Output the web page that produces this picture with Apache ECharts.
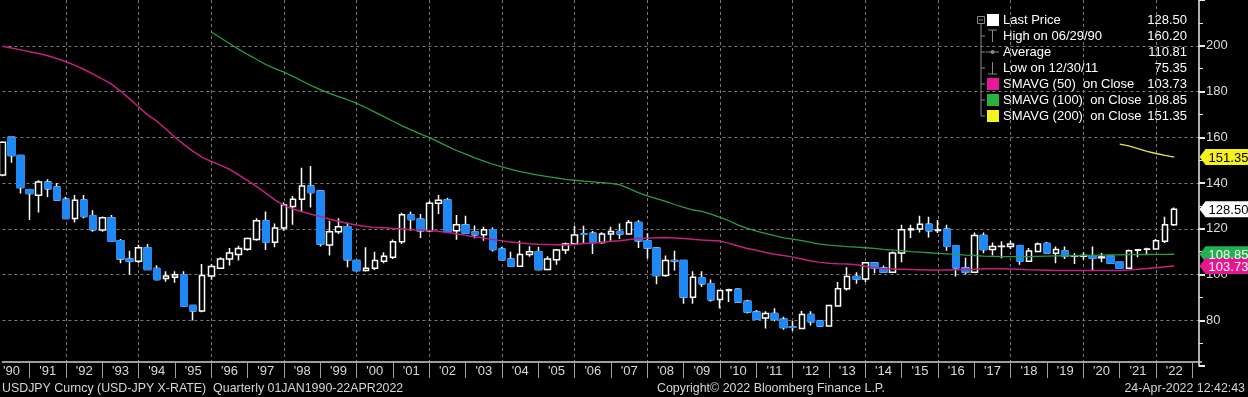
<!DOCTYPE html>
<html>
<head>
<meta charset="utf-8">
<style>
html, body { margin: 0; padding: 0; background: #000; }
#chart { width: 1248px; height: 397px; }
</style>
<script src="https://cdn.jsdelivr.net/npm/echarts@6/dist/echarts.min.js"></script>
</head>
<body>
<div id="chart"></div>
<script>
const FONT = '"Liberation Sans", Arial, sans-serif';

// quarterly bars, Q1 1990 .. Q2 2022
const opens = [
    143.5, 160.0, 152.0, 137.1, 134.6, 140.4, 138.3, 132.9, 124.5, 132.6, 125.7, 119.4,
    124.8, 114.8, 106.8, 105.8, 111.7, 102.6, 98.3, 98.8, 99.9, 86.5, 84.0, 99.3,
    102.7, 106.8, 108.7, 111.0, 115.3, 123.5, 114.1, 120.3, 129.7, 132.9, 138.7, 136.5,
    112.9, 118.7, 120.9, 106.1, 101.7, 102.7, 105.8, 107.5, 114.3, 126.1, 124.2, 119.1,
    131.2, 132.6, 119.1, 121.7, 118.7, 117.4, 119.6, 111.2, 106.8, 103.6, 108.7, 110.0,
    102.2, 106.5, 110.7, 113.3, 117.8, 118.0, 114.0, 117.7, 118.8, 117.7, 122.7, 114.8,
    111.6, 99.6, 106.1, 106.1, 90.1, 98.6, 96.0, 89.1, 93.0, 93.5, 88.3, 83.6,
    81.0, 82.9, 80.4, 77.1, 76.4, 82.5, 79.7, 77.5, 86.2, 93.8, 99.1, 98.0,
    105.1, 102.9, 101.0, 109.4, 119.6, 119.9, 122.0, 119.2, 119.9, 112.6, 102.9, 101.0,
    117.0, 110.9, 112.2, 112.2, 112.6, 105.8, 110.1, 113.6, 109.3, 110.4, 108.0, 108.0,
    108.0, 107.3, 108.0, 105.4, 102.7, 110.6, 111.0, 111.2, 114.5, 121.7
];
const closes = [
    157.8, 152.0, 138.0, 135.4, 140.4, 137.5, 132.5, 124.5, 132.5, 125.4, 119.6, 124.8,
    114.5, 106.8, 105.8, 111.7, 102.2, 97.8, 99.3, 99.9, 86.1, 84.0, 99.6, 103.5,
    106.8, 109.4, 111.4, 115.7, 123.5, 114.1, 120.3, 130.4, 132.9, 138.7, 135.8, 113.3,
    118.7, 120.9, 106.4, 101.7, 102.7, 106.1, 108.0, 114.3, 126.1, 124.0, 119.1, 131.2,
    132.5, 118.8, 121.7, 118.1, 117.4, 119.6, 110.9, 106.5, 103.6, 108.7, 110.0, 102.2,
    106.8, 110.7, 113.3, 117.3, 117.6, 114.0, 117.7, 118.8, 117.7, 122.7, 114.8, 111.6,
    99.6, 106.1, 105.9, 90.1, 98.8, 96.0, 89.0, 93.0, 93.3, 88.0, 83.6, 80.4,
    82.9, 80.4, 76.8, 76.9, 82.5, 79.3, 77.5, 86.4, 93.8, 99.1, 98.0, 105.1,
    102.9, 101.0, 109.4, 119.6, 119.9, 122.0, 119.1, 119.4, 112.3, 102.9, 101.0, 117.0,
    110.9, 112.2, 112.4, 113.3, 105.8, 110.3, 113.3, 109.4, 110.9, 108.0, 108.2, 108.3,
    107.1, 107.6, 104.9, 102.7, 110.4, 110.8, 111.2, 114.8, 121.7, 128.5
];
const lows = [
    143.0, 148.8, 135.4, 123.8, 127.1, 133.9, 132.3, 124.3, 122.7, 124.6, 118.7, 118.7,
    114.3, 104.9, 100.0, 104.9, 101.9, 97.4, 96.8, 96.4, 86.0, 79.9, 83.5, 97.7,
    102.5, 103.9, 106.1, 110.4, 114.8, 110.7, 111.9, 119.1, 121.7, 127.5, 129.3, 112.2,
    108.3, 117.7, 103.2, 101.3, 101.3, 102.0, 104.9, 106.8, 113.3, 119.1, 116.0, 118.5,
    126.4, 118.5, 115.2, 117.8, 115.8, 114.8, 110.1, 106.3, 103.4, 103.4, 107.8, 101.8,
    101.7, 104.3, 109.0, 112.9, 113.3, 109.0, 113.4, 114.8, 115.5, 117.5, 111.6, 107.0,
    95.7, 99.0, 101.7, 87.2, 87.2, 94.5, 88.2, 85.1, 88.0, 87.8, 82.9, 80.2,
    76.4, 79.6, 75.9, 75.35, 76.1, 77.7, 77.1, 77.4, 86.0, 93.0, 96.0, 96.7,
    100.6, 100.8, 100.8, 105.4, 116.0, 118.4, 116.2, 118.1, 110.4, 99.1, 100.0, 100.9,
    109.3, 108.3, 107.1, 111.2, 104.3, 105.6, 109.8, 109.2, 104.9, 106.8, 104.6, 106.5,
    101.7, 105.4, 104.6, 102.6, 102.6, 107.5, 108.7, 110.8, 113.8, 121.3
];
const highs = [
    158.2, 160.2, 152.0, 137.5, 141.2, 141.6, 140.0, 133.9, 134.8, 134.8, 128.1, 125.4,
    126.0, 115.5, 110.4, 113.0, 113.3, 104.0, 101.4, 101.4, 101.4, 86.6, 104.6, 104.6,
    107.5, 111.6, 112.6, 116.2, 124.6, 127.5, 122.3, 131.6, 134.3, 146.7, 147.4, 136.5,
    123.5, 124.6, 122.7, 106.5, 111.9, 110.0, 109.7, 115.3, 127.0, 127.5, 126.4, 132.2,
    134.8, 133.6, 126.0, 125.7, 121.4, 120.9, 120.5, 112.0, 110.0, 114.8, 112.3, 112.0,
    108.0, 111.1, 114.0, 121.3, 121.3, 119.0, 118.5, 120.9, 122.3, 123.8, 123.7, 118.0,
    112.0, 108.3, 110.4, 106.5, 101.4, 101.4, 97.8, 93.2, 93.8, 94.0, 89.0, 84.5,
    83.9, 85.2, 81.5, 79.7, 84.0, 83.9, 80.0, 86.6, 96.7, 103.2, 101.0, 105.4,
    105.4, 103.9, 110.1, 121.7, 121.7, 125.7, 125.2, 123.8, 121.7, 112.6, 107.3, 118.4,
    118.4, 114.0, 114.5, 114.8, 113.0, 111.6, 114.0, 114.2, 112.2, 112.2, 109.3, 109.7,
    112.2, 109.4, 108.2, 105.7, 110.9, 110.9, 111.7, 115.5, 125.2, 129.3
];

// simple moving averages on close (null = not drawn)
const sma50 = [
    199.8, 199.0, 198.2, 197.4, 196.6, 195.6, 194.4, 193.0, 191.4, 189.6, 187.6, 185.5,
    183.2, 180.2, 176.8, 173.2, 169.8, 167.0, 163.6, 160.0, 156.8, 153.8, 151.2, 149.4,
    147.8, 146.0, 143.6, 141.0, 138.4, 135.6, 132.6, 130.2, 128.6, 127.4, 126.3, 125.3,
    124.3, 123.3, 122.3, 121.6, 121.0, 120.6, 120.4, 120.1, 119.9, 119.6, 119.4, 119.2,
    118.9, 118.4, 117.8, 117.1, 116.5, 115.9, 115.3, 114.7, 114.2, 113.8, 113.4, 113.2,
    113.1, 113.0, 112.9, 113.1, 113.5, 113.8, 114.1, 114.5, 114.8, 115.3, 115.7, 115.9,
    116.1, 116.2, 116.0, 115.7, 115.4, 115.1, 114.9, 114.6, 113.6, 112.5, 111.4, 110.6,
    109.6, 108.9, 108.3, 107.6, 106.8, 105.9, 105.3, 104.9, 104.7, 104.6, 104.3, 103.6,
    102.9, 102.5, 102.4, 102.3, 102.2, 102.1, 102.0, 102.0, 102.0, 102.1, 102.2, 102.3,
    102.5, 102.5, 102.5, 102.4, 102.3, 102.1, 102.0, 101.9, 101.8, 101.7, 101.7, 101.7,
    101.7, 101.7, 101.7, 101.8, 102.0, 102.3, 102.6, 103.0, 103.4, 103.73
];
const sma100 = [
    null, null, null, null, null, null, null, null, null, null, null, null,
    null, null, null, null, null, null, null, null, null, null, null, 206.0,
    203.5, 201.0, 198.5, 196.2, 194.0, 191.8, 190.0, 188.5, 186.6, 184.6, 182.6, 180.8,
    179.2, 177.8, 176.4, 174.8, 173.0, 171.0, 169.0, 167.0, 165.0, 163.2, 161.5, 159.8,
    158.0, 156.0, 154.2, 152.6, 151.0, 149.6, 148.2, 147.0, 146.0, 145.0, 144.2, 143.4,
    142.8, 142.2, 141.6, 141.2, 140.8, 140.5, 140.2, 139.8, 139.2, 137.5, 135.8, 134.4,
    133.2, 132.0, 130.6, 129.3, 128.2, 127.6, 126.4, 125.0, 123.5, 121.6, 120.2, 119.0,
    118.0, 117.0, 116.0, 115.5, 114.8, 114.0, 113.3, 112.8, 112.5, 112.2, 112.0, 111.7,
    111.4, 111.0, 110.7, 110.4, 110.0, 109.8, 109.5, 109.2, 109.0, 108.8, 108.5, 108.3,
    108.0, 107.9, 107.8, 107.8, 107.8, 107.8, 107.9, 108.0, 108.1, 108.2, 108.2, 108.3,
    108.4, 108.5, 108.6, 108.6, 108.7, 108.7, 108.75, 108.8, 108.8, 108.85
];
const sma200 = [
    null, null, null, null, null, null, null, null, null, null, null, null,
    null, null, null, null, null, null, null, null, null, null, null, null,
    null, null, null, null, null, null, null, null, null, null, null, null,
    null, null, null, null, null, null, null, null, null, null, null, null,
    null, null, null, null, null, null, null, null, null, null, null, null,
    null, null, null, null, null, null, null, null, null, null, null, null,
    null, null, null, null, null, null, null, null, null, null, null, null,
    null, null, null, null, null, null, null, null, null, null, null, null,
    null, null, null, null, null, null, null, null, null, null, null, null,
    null, null, null, null, null, null, null, null, null, null, null, null,
    null, null, null, 157.0, 156.2, 155.0, 153.8, 152.9, 152.1, 151.35
];

const yearLabels = [
    "'90", "'91", "'92", "'93", "'94", "'95", "'96", "'97", "'98", "'99", "'00",
    "'01", "'02", "'03", "'04", "'05", "'06", "'07", "'08", "'09", "'10", "'11",
    "'12", "'13", "'14", "'15", "'16", "'17", "'18", "'19", "'20", "'21", "'22"
];
const yTicks = [80, 100, 120, 140, 160, 180, 200];

const legendRows = [
    { label: "Last Price", value: "128.50", mark: "square", color: "#ffffff" },
    { label: "High on 06/29/90", value: "160.20", mark: "high" },
    { label: "Average", value: "110.81", mark: "avg" },
    { label: "Low on 12/30/11", value: "75.35", mark: "low" },
    { label: "SMAVG (50)  on Close", value: "103.73", mark: "square", color: "#e8189c" },
    { label: "SMAVG (100)  on Close", value: "108.85", mark: "square", color: "#27b33f" },
    { label: "SMAVG (200)  on Close", value: "151.35", mark: "square", color: "#f2f21c" }
];

const BLUE = "#1e88f5";
const MAGENTA = "#c4207f";
const GREEN = "#2a9c45";
const YELLOW = "#e4e44a";

// categories run 3 quarters past the data so the axis ends at the right edge
const categories = [];
for (let i = 0; i < 133; i++) {
    categories.push((1990 + Math.floor(i / 4)) + "Q" + (i % 4 + 1));
}
const lastCat = categories[categories.length - 1];

const ohlc = opens.map((o, i) => [o, closes[i], lows[i], highs[i]]);
// blue bodies for falling quarters, drawn over the white wicks
const downBodies = opens.map((o, i) =>
    closes[i] < o ? [o, closes[i], closes[i], o] : ["-", "-", "-", "-"]
);

function tagMark(value, bg, fg) {
    return {
        silent: true,
        animation: false,
        symbol: "path://M0,8L7,0L60,0L60,16L7,16Z",
        symbolSize: [52, 16],
        symbolKeepAspect: false,
        symbolOffset: [24, 0],
        itemStyle: { color: bg },
        label: {
            show: true,
            position: "inside",
            offset: [3, 1],
            color: fg,
            fontFamily: FONT,
            fontSize: 13,
            formatter: () => value.toFixed(2)
        },
        data: [{ coord: [lastCat, value], value: value }]
    };
}

function legendGraphics() {
    const g = [];
    const grey = "#8a8a8a";
    g.push({ type: "rect", shape: { x: 977.5, y: 16.5, width: 7, height: 7 }, style: { fill: "none", stroke: grey, lineWidth: 1 } });
    g.push({ type: "line", shape: { x1: 979, y1: 20, x2: 983, y2: 20 }, style: { stroke: grey, lineWidth: 1 } });
    g.push({ type: "line", shape: { x1: 981, y1: 24, x2: 981, y2: 116 }, style: { stroke: grey, lineWidth: 1 } });

    legendRows.forEach((row, k) => {
        const yc = 20 + k * 16;
        if (k > 0) {
            g.push({ type: "line", shape: { x1: 981, y1: yc, x2: 985, y2: yc }, style: { stroke: grey, lineWidth: 1 } });
        }
        if (row.mark === "square") {
            g.push({ type: "rect", shape: { x: 987, y: yc - 6, width: 12, height: 12 }, style: { fill: row.color } });
        } else if (row.mark === "high") {
            g.push({ type: "line", shape: { x1: 988, y1: yc - 6, x2: 997, y2: yc - 6 }, style: { stroke: grey, lineWidth: 1 } });
            g.push({ type: "line", shape: { x1: 992.5, y1: yc - 6, x2: 992.5, y2: yc + 6 }, style: { stroke: grey, lineWidth: 1 } });
        } else if (row.mark === "low") {
            g.push({ type: "line", shape: { x1: 992.5, y1: yc - 6, x2: 992.5, y2: yc + 6 }, style: { stroke: grey, lineWidth: 1 } });
            g.push({ type: "line", shape: { x1: 988, y1: yc + 6, x2: 997, y2: yc + 6 }, style: { stroke: grey, lineWidth: 1 } });
        } else {
            g.push({ type: "line", shape: { x1: 986, y1: yc, x2: 999, y2: yc }, style: { stroke: grey, lineWidth: 1 } });
            g.push({ type: "circle", shape: { cx: 992.5, cy: yc, r: 2 }, style: { fill: grey } });
        }
        g.push({
            type: "text", x: 1003, y: yc,
            style: { text: row.label, fill: "#ffffff", font: "13px " + FONT, verticalAlign: "middle", textVerticalAlign: "middle" }
        });
        g.push({
            type: "text", x: 1187, y: yc,
            style: { text: row.value, fill: "#ffffff", font: "13px " + FONT, align: "right", textAlign: "right", verticalAlign: "middle", textVerticalAlign: "middle" }
        });
    });
    return g;
}

function footerGraphics() {
    const style = { fill: "#d6d6d6", font: "12.4px " + FONT, verticalAlign: "middle", textVerticalAlign: "middle" };
    return [
        { type: "text", x: 2, y: 389, style: Object.assign({ text: "USDJPY Curncy (USD-JPY X-RATE)  Quarterly 01JAN1990-22APR2022" }, style) },
        { type: "text", x: 771, y: 389, style: Object.assign({ text: "Copyright\u00a9 2022 Bloomberg Finance L.P.", align: "center", textAlign: "center" }, style) },
        { type: "text", x: 1245, y: 389, style: Object.assign({ text: "24-Apr-2022 12:42:43", align: "right", textAlign: "right" }, style) }
    ];
}

const chart = echarts.init(document.getElementById("chart"));

chart.setOption({
    backgroundColor: "#000000",
    animation: false,
    grid: {
        left: 1.4,
        right: 46.5,
        top: -2,
        bottom: 31
    },
    xAxis: {
        type: "category",
        data: categories,
        boundaryGap: false,
        offset: -4,
        axisLine: { lineStyle: { color: "#d0d0d0", width: 1.5 } },
        axisTick: {
            interval: (i) => i % 4 === 3,
            length: 16,
            lineStyle: { color: "#a0a0a0", width: 1 }
        },
        axisLabel: {
            interval: (i) => i % 4 === 1,
            margin: 3,
            color: "#d8d8d8",
            fontFamily: FONT,
            fontSize: 13,
            formatter: (v, i) => yearLabels[(i - 1) / 4] || ""
        },
        splitLine: {
            show: true,
            interval: (i) => i % 8 === 7,
            lineStyle: { color: "#7a7a7a", type: [3, 3], width: 1 }
        }
    },
    yAxis: {
        type: "value",
        position: "right",
        offset: -2.5,
        min: 60,
        max: 220,
        interval: 20,
        axisLine: { show: true, lineStyle: { color: "#e8e8e8", width: 1.5 } },
        axisTick: { show: true, length: 6, lineStyle: { color: "#e8e8e8", width: 2 } },
        minorTick: { show: true, splitNumber: 2, length: 4, lineStyle: { color: "#e8e8e8", width: 1 } },
        axisLabel: {
            margin: 7,
            color: "#dcdcdc",
            fontFamily: FONT,
            fontSize: 13,
            formatter: (v) => yTicks.indexOf(v) >= 0 ? String(v) : ""
        },
        splitLine: {
            show: true,
            showMinLine: false,
            showMaxLine: false,
            lineStyle: { color: "#7a7a7a", type: [3, 3], width: 1 }
        }
    },
    series: [
        {
            name: "USDJPY",
            type: "candlestick",
            data: ohlc,
            barWidth: 6,
            clip: false,
            itemStyle: {
                color: "#000000",
                color0: "#000000",
                borderColor: "#ffffff",
                borderColor0: "#ffffff",
                borderColorDoji: "#ffffff",
                borderWidth: 1.5
            },
            markPoint: tagMark(closes[closes.length - 1], "#ffffff", "#000000")
        },
        {
            name: "Down",
            type: "candlestick",
            data: downBodies,
            barWidth: 8,
            clip: false,
            itemStyle: {
                color: BLUE,
                color0: BLUE,
                borderColor: BLUE,
                borderColor0: BLUE,
                borderColorDoji: BLUE,
                borderWidth: 1
            }
        },
        {
            name: "SMAVG (200)",
            type: "line",
            data: sma200,
            symbol: "none",
            silent: true,
            lineStyle: { color: YELLOW, width: 1.3 },
            markPoint: tagMark(151.35, "#f5f01e", "#000000")
        },
        {
            name: "SMAVG (100)",
            type: "line",
            data: sma100,
            symbol: "none",
            silent: true,
            lineStyle: { color: GREEN, width: 1.3 },
            markPoint: tagMark(108.85, "#22b14c", "#ffffff")
        },
        {
            name: "SMAVG (50)",
            type: "line",
            data: sma50,
            symbol: "none",
            silent: true,
            lineStyle: { color: MAGENTA, width: 1.5 },
            markPoint: tagMark(103.73, "#e6168f", "#ffffff")
        }
    ],
    graphic: legendGraphics().concat(footerGraphics())
});
</script>
</body>
</html>
